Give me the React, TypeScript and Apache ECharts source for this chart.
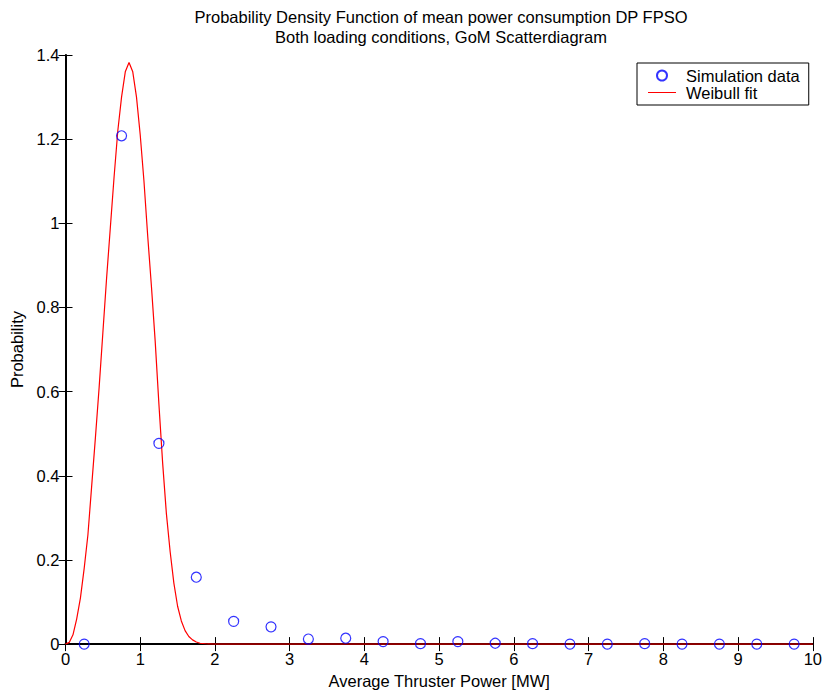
import React, { useEffect, useRef } from "react";
import * as echarts from "echarts";

const simX = [0.25, 0.75, 1.25, 1.75, 2.25, 2.75, 3.25, 3.75, 4.25, 4.75, 5.25, 5.75, 6.25, 6.75, 7.25, 7.75, 8.25, 8.75, 9.25, 9.75];
const simY = [0, 1.208, 0.477, 0.159, 0.054, 0.041, 0.012, 0.014, 0.006, 0.001, 0.006, 0.002, 0.001, 0, 0, 0.001, 0, 0, 0, 0];

const fitX = [0, 0.05, 0.1, 0.15, 0.2, 0.25, 0.3, 0.35, 0.4, 0.45, 0.5, 0.55, 0.6, 0.65, 0.7, 0.75, 0.8, 0.85, 0.9, 0.95, 1.0, 1.05, 1.1, 1.15, 1.2, 1.25, 1.3, 1.35, 1.4, 1.45, 1.5, 1.55, 1.6, 1.65, 1.7, 1.75, 1.8, 1.9, 2.0, 10];
const fitY = [0, 0.004, 0.022, 0.06, 0.11, 0.18, 0.26, 0.375, 0.49, 0.61, 0.74, 0.87, 0.99, 1.11, 1.22, 1.3, 1.36, 1.382, 1.36, 1.3, 1.21, 1.1, 0.97, 0.85, 0.72, 0.57, 0.43, 0.31, 0.22, 0.145, 0.09, 0.055, 0.032, 0.018, 0.01, 0.005, 0.002, 0.0003, 0, 0];

const titleText = "Probability Density Function of mean power consumption DP FPSO\nBoth loading conditions, GoM Scatterdiagram";
const xName = "Average Thruster Power [MW]";
const yName = "Probability";

const FONT = "'Liberation Sans', Arial, Helvetica, sans-serif";
const FS = 16.5;

const LINE_ICON = "path://M0,0 L0.01,0 L0,0.01 Z M28,10 L27.99,10 L28,9.99 Z M0,4.4 L28,4.4 L28,5.6 L0,5.6 Z";

export default function App() {
  const ref = useRef<HTMLDivElement>(null);
  useEffect(() => {
    document.body.style.margin = "0";
    const chart = echarts.init(ref.current!, null, { renderer: "svg" });
    const fmt = (v: number) => String(+v.toFixed(1));
    chart.setOption({
      animation: false,
      backgroundColor: "#fff",
      textStyle: { fontFamily: FONT },
      title: {
        text: titleText,
        left: 441,
        textAlign: "center",
        top: 7,
        padding: 0,
        textStyle: { fontFamily: FONT, fontSize: FS, fontWeight: "normal", color: "#000", lineHeight: 20 },
      },
      legend: {
        orient: "vertical",
        left: 637,
        top: 63,
        padding: [4, 9, 4, 11],
        itemGap: 0,
        itemWidth: 28,
        itemHeight: 10,
        borderColor: "#000",
        borderWidth: 1,
        backgroundColor: "#fff",
        textStyle: { fontFamily: FONT, fontSize: FS, color: "#000", padding: [0, 0, 0, 5] },
        data: [
          { name: "Simulation data" },
          { name: "Weibull fit", icon: LINE_ICON, itemStyle: { color: "#ff0000", borderWidth: 0 } },
        ],
      },
      grid: { left: 65.5, right: 8, top: 55, bottom: 45, containLabel: false },
      xAxis: [
        {
          type: "value",
          min: 0,
          max: 10,
          interval: 1,
          name: xName,
          nameLocation: "middle",
          nameGap: 24,
          nameTextStyle: { fontFamily: FONT, fontSize: FS, color: "#000" },
          axisLine: { show: true, lineStyle: { color: "#000", width: 2 } },
          axisTick: { inside: true, length: 7, lineStyle: { color: "#000" } },
          axisLabel: { margin: 6, fontFamily: FONT, fontSize: FS, color: "#000", formatter: fmt },
          splitLine: { show: false },
        },
        {
          type: "value",
          position: "top",
          min: 0,
          max: 10,
          interval: 1,
          axisLine: { show: true, lineStyle: { color: "#000", width: 1 } },
          axisTick: { inside: true, length: 7, lineStyle: { color: "#000" } },
          axisLabel: { show: false },
          splitLine: { show: false },
        },
      ],
      yAxis: [
        {
          type: "value",
          min: 0,
          max: 1.4,
          interval: 0.2,
          name: yName,
          nameLocation: "middle",
          nameGap: 37,
          nameTextStyle: { fontFamily: FONT, fontSize: FS, color: "#000" },
          axisLine: { show: true, lineStyle: { color: "#000", width: 2 } },
          axisTick: { inside: true, length: 7, lineStyle: { color: "#000" } },
          axisLabel: { margin: 6, fontFamily: FONT, fontSize: FS, color: "#000", formatter: fmt },
          splitLine: { show: false },
        },
        {
          type: "value",
          position: "right",
          min: 0,
          max: 1.4,
          interval: 0.2,
          axisLine: { show: true, lineStyle: { color: "#000", width: 1 } },
          axisTick: { inside: true, length: 7, lineStyle: { color: "#000" } },
          axisLabel: { show: false },
          splitLine: { show: false },
        },
      ],
      series: [
        {
          name: "Simulation data",
          type: "scatter",
          symbol: "circle",
          symbolSize: 10,
          itemStyle: { color: "rgba(0,0,0,0)", borderColor: "#0000ff", borderWidth: 1.2 },
          data: simX.map((x, i) => [x, simY[i]]),
          z: 3,
        },
        {
          name: "Weibull fit",
          type: "line",
          symbol: "none",
          lineStyle: { color: "#ff0000", width: 1.2 },
          itemStyle: { color: "#ff0000" },
          data: fitX.map((x, i) => [x, fitY[i]]),
          z: 2,
        },
      ],
    });
    return () => chart.dispose();
  }, []);
  return <div ref={ref} style={{ width: 825, height: 694 }} />;
}
